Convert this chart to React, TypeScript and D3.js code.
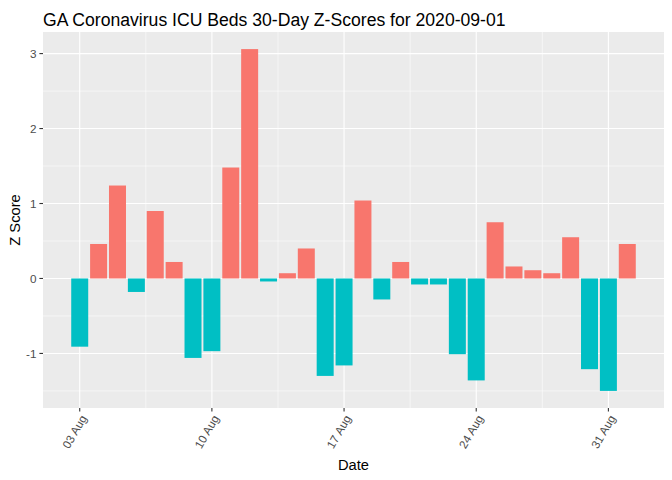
import React from 'react';
import * as d3 from 'd3';

const dates = [
  '2020-08-03', '2020-08-04', '2020-08-05', '2020-08-06', '2020-08-07', '2020-08-08',
  '2020-08-09', '2020-08-10', '2020-08-11', '2020-08-12', '2020-08-13', '2020-08-14',
  '2020-08-15', '2020-08-16', '2020-08-17', '2020-08-18', '2020-08-19', '2020-08-20',
  '2020-08-21', '2020-08-22', '2020-08-23', '2020-08-24', '2020-08-25', '2020-08-26',
  '2020-08-27', '2020-08-28', '2020-08-29', '2020-08-30', '2020-08-31', '2020-09-01',
];

const zScores = [
  -0.91, 0.46, 1.24, -0.18, 0.9, 0.22,
  -1.06, -0.97, 1.48, 3.06, -0.04, 0.07,
  0.4, -1.3, -1.16, 1.04, -0.28, 0.22,
  -0.08, -0.08, -1.01, -1.36, 0.75, 0.16,
  0.11, 0.07, 0.55, -1.21, -1.5, 0.46,
];

const xTicks = ['2020-08-03', '2020-08-10', '2020-08-17', '2020-08-24', '2020-08-31'];
const xTickLabels = ['03 Aug', '10 Aug', '17 Aug', '24 Aug', '31 Aug'];
const yTicks = [-1, 0, 1, 2, 3];
const yMinor = [-1.5, -0.5, 0.5, 1.5, 2.5];

const W = 672;
const H = 480;
const left = 43;
const right = 664;
const top = 32;
const bottom = 408;
const DAY = 86400000;

const App = () => {
  const t = dates.map((d) => new Date(d + 'T00:00:00Z'));
  const t0 = +t[0] - 0.45 * DAY;
  const t1 = +t[t.length - 1] + 0.45 * DAY;
  const padX = (t1 - t0) * 0.05;
  const x = d3.scaleUtc().domain([new Date(t0 - padX), new Date(t1 + padX)]).range([left, right]);

  const yMin = d3.min(zScores) as number;
  const yMax = d3.max(zScores) as number;
  const padY = (yMax - yMin) * 0.05;
  const y = d3.scaleLinear().domain([yMin - padY, yMax + padY]).range([bottom, top]);

  const tickDates = xTicks.map((d) => new Date(d + 'T00:00:00Z'));
  const minorDates = tickDates.slice(0, -1).map((d) => new Date(+d + 3.5 * DAY));
  const barW = x(new Date(+t[0] + 0.9 * DAY)) - x(t[0]);

  return (
    <svg width={W} height={H} style={{ position: 'absolute', left: 0, top: 0 }}
      fontFamily="'Liberation Sans', Arial, sans-serif">
      <rect x={0} y={0} width={W} height={H} fill="#ffffff" />
      <rect x={left} y={top} width={right - left} height={bottom - top} fill="#EBEBEB" />
      {yMinor.map((v) => (
        <line key={'ym' + v} x1={left} x2={right} y1={y(v)} y2={y(v)} stroke="#fff" strokeWidth={0.55} />
      ))}
      {minorDates.map((d, i) => (
        <line key={'xm' + i} x1={x(d)} x2={x(d)} y1={top} y2={bottom} stroke="#fff" strokeWidth={0.55} />
      ))}
      {yTicks.map((v) => (
        <line key={'y' + v} x1={left} x2={right} y1={y(v)} y2={y(v)} stroke="#fff" strokeWidth={1.1} />
      ))}
      {tickDates.map((d, i) => (
        <line key={'x' + i} x1={x(d)} x2={x(d)} y1={top} y2={bottom} stroke="#fff" strokeWidth={1.1} />
      ))}
      {zScores.map((v, i) => (
        <rect key={'b' + i} x={x(t[i]) - barW / 2} width={barW}
          y={Math.min(y(v), y(0))} height={Math.abs(y(v) - y(0))}
          fill={v >= 0 ? '#F8766D' : '#00BFC4'} />
      ))}
      {yTicks.map((v) => (
        <g key={'yt' + v}>
          <line x1={left - 3.6} x2={left} y1={y(v)} y2={y(v)} stroke="#333" strokeWidth={1.1} />
          <text x={left - 6.5} y={y(v)} dy="0.35em" textAnchor="end" fontSize={11.7} fill="#4D4D4D">{v}</text>
        </g>
      ))}
      {tickDates.map((d, i) => (
        <g key={'xt' + i}>
          <line x1={x(d)} x2={x(d)} y1={bottom} y2={bottom + 3.6} stroke="#333" strokeWidth={1.1} />
          <text transform={`translate(${x(d) + 7.5},${bottom + 10}) rotate(-60)`} textAnchor="end"
            fontSize={11.7} fill="#4D4D4D">{xTickLabels[i]}</text>
        </g>
      ))}
      <text x={(left + right) / 2} y={470} textAnchor="middle" fontSize={14.7} fill="#000">Date</text>
      <text transform={`translate(20,${(top + bottom) / 2}) rotate(-90)`} textAnchor="middle"
        fontSize={14.7} fill="#000">Z Score</text>
      <text x={left} y={26} fontSize={17.6} fill="#000">GA Coronavirus ICU Beds 30-Day Z-Scores for 2020-09-01</text>
    </svg>
  );
};

export default App;
